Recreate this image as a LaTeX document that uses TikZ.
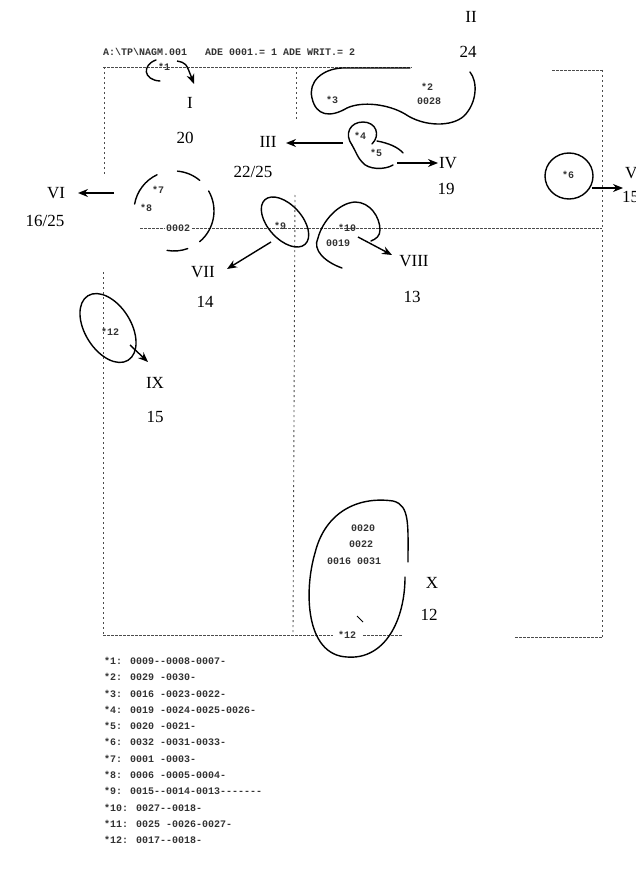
\documentclass[tikz,border=0pt]{standalone}
\usepackage{fontspec}
\setmainfont{Liberation Serif}
\newfontfamily\dotfont{Liberation Mono}
\usetikzlibrary{arrows.meta}
\begin{document}
\begin{tikzpicture}[x=1pt,y=-1pt,
  lab/.style={font=\fontsize{17}{17}\selectfont, inner sep=0pt},
  mono/.style={font=\dotfont\bfseries\fontsize{10}{10}\selectfont, inner sep=0pt, text=black!80},
  hgrid/.style={draw=black!70, line width=0.9pt, dash pattern=on 2.5pt off 1.5pt},
  vgrid/.style={draw=black!70, line width=0.9pt, dash pattern=on 2pt off 3pt},
  curve/.style={draw=black, line width=1.4pt, line cap=round},
  arr/.style={draw=black, line width=1.4pt, -{Stealth[length=10pt,width=8pt]}},
]
\useasboundingbox (0,0) rectangle (636,872);

% ---------- dotted frames ----------
\draw[hgrid] (103,67) -- (412,67);
\draw[hgrid] (552,70) -- (602,70);
\draw[hgrid] (140,228) -- (602,228);
\draw[hgrid] (103,635) -- (333,635);
\draw[hgrid] (363,635) -- (402,635);
\draw[hgrid] (515,637) -- (602,637);
\draw[vgrid] (104,67) -- (104,175);
\draw[vgrid] (103,272) -- (103,635);
\draw[vgrid] (296,67) -- (296,120);
\draw[vgrid] (295,195) -- (293,635);
\draw[vgrid] (602,70) -- (602,637);

% ---------- header ----------
\node[mono, anchor=west] (hdr) at (103,52) {A:\textbackslash TP\textbackslash NAGM.001\ \ \ ADE 0001.= 1 ADE WRIT.= 2};

% ---------- labels ----------
\node[lab] (I) at (190,103) {I};
\node[lab] (n20) at (185,138) {20};
\node[lab] (II) at (471,17) {II};
\node[lab] (n24) at (468,52) {24};
\node[lab] (III) at (268,142) {III};
\node[lab] (n2225) at (253,172) {22/25};
\node[lab] (IV) at (448,163) {IV};
\node[lab] (n19) at (446,189) {19};
\node[lab, anchor=west] (V) at (625,173) {V};
\node[lab, anchor=west] (n15a) at (622,197) {15};
\node[lab] (VI) at (56,193) {VI};
\node[lab] (n1625) at (45,221) {16/25};
\node[lab] (VII) at (203,272) {VII};
\node[lab] (n14) at (205,302) {14};
\node[lab] (VIII) at (414,261) {VIII};
\node[lab] (n13) at (412,297) {13};
\node[lab] (IX) at (155,383) {IX};
\node[lab] (n15b) at (155,417) {15};
\node[lab] (X) at (432,583) {X};
\node[lab] (n12) at (429,615) {12};

% ---------- small texts ----------
\node[mono] (t1) at (164,67) {*1};
\node[mono] (t3) at (332,100) {*3};
\node[mono] (t2) at (427,87) {*2};
\node[mono] (t28) at (429,101) {0028};
\node[mono] (t4) at (360,136) {*4};
\node[mono] (t5) at (376,153) {*5};
\node[mono] (t6) at (568,175) {*6};
\node[mono] (t7) at (158,190) {*7};
\node[mono] (t8) at (146,208) {*8};
\node[mono, fill=white, inner xsep=1pt] (t02) at (178,228) {0002};
\node[mono] (t9) at (280,226) {*9};
\node[mono] (t10) at (347,228) {*10};
\node[mono] (t19) at (338,243) {0019};
\node[mono] (t12a) at (110,332) {*12};
\node[mono] (tx1) at (363,528) {0020};
\node[mono] (tx2) at (361,544) {0022};
\node[mono] (tx3) at (354,561) {0016 0031};
\node[mono] (t12b) at (347,635) {*12};

% ---------- loops ----------
% *1
\draw[curve] (156,60) .. controls (142,65) and (143,80) .. (160,81);
% II loop (*2, *3)
\draw[curve] (410,68) -- (342,68) .. controls (322,69) and (308,82) .. (312,98)
  .. controls (316,116) and (330,118) .. (347,108)
  .. controls (362,101) and (388,104) .. (405,114)
  .. controls (424,127) and (452,127) .. (464,116)
  .. controls (477,103) and (478,82) .. (470,72);
% *4
\draw[curve] (352,145) .. controls (344,134) and (350,122) .. (363,122)
  .. controls (376,122) and (381,135) .. (372,144);
\draw[curve] (377,141) .. controls (388,143) and (398,147) .. (403,153);
\draw[curve] (352,145) .. controls (356,152) and (358,158) .. (362,162)
  .. controls (368,170) and (385,170) .. (393,165);
% *6
\draw[curve] (569,176) ellipse [x radius=24, y radius=23];
% *7 / *8 dashed circle
\draw[curve] (174,211) ++(190:40) arc[start angle=190, end angle=245, radius=40];
\draw[curve] (174,211) ++(275:40) arc[start angle=275, end angle=310, radius=40];
\draw[curve] (174,211) ++(330:40) arc[start angle=330, end angle=410, radius=40];
\draw[curve] (174,211) ++(70:40) arc[start angle=70, end angle=100, radius=40];
% *9
\draw[curve] (285,222) ellipse [x radius=30, y radius=17, rotate=-48];
% *10 / *11
\draw[curve] (342,268) .. controls (325,262) and (312,250) .. (318,238)
  .. controls (322,222) and (338,203) .. (355,202)
  .. controls (370,202) and (380,217) .. (380,230)
  .. controls (380,236) and (376,239) .. (371,241);
% *12 (IX)
\draw[curve] (108,328) ellipse [x radius=38, y radius=23, rotate=-58];
% X
\draw[curve] (405,577) .. controls (405,620) and (385,660) .. (347,657)
  .. controls (305,655) and (304,590) .. (315,553)
  .. controls (325,512) and (358,496) .. (393,501)
  .. controls (410,505) and (408,525) .. (408,562);
\draw[black, line width=1pt] (357,616) -- (363,622);

% ---------- arrows ----------
\coordinate (a1s) at (177,61);
\coordinate (a1e) at (194,84);
\draw[arr] (a1s) .. controls (186,63) .. (a1e);
\coordinate (a3s) at (343,143);
\coordinate (a3e) at (286,143);
\draw[arr] (a3s) -- (a3e);
\coordinate (a4s) at (397,163);
\coordinate (a4e) at (438,163);
\draw[arr] (a4s) -- (a4e);
\coordinate (a6s) at (592,188);
\coordinate (a6e) at (623,188);
\draw[arr] (a6s) -- (a6e);
\coordinate (a7s) at (114,193);
\coordinate (a7e) at (78,193);
\draw[arr] (a7s) -- (a7e);
\coordinate (a9s) at (271,242);
\coordinate (a9e) at (227,269);
\draw[arr] (a9s) -- (a9e);
\coordinate (a10s) at (358,237);
\coordinate (a10e) at (392,255);
\draw[arr] (a10s) -- (a10e);
\coordinate (a12s) at (130,345);
\coordinate (a12e) at (148,362);
\draw[arr] (a12s) -- (a12e);

% ---------- legend ----------
\node[mono, anchor=north west, align=left, font=\dotfont\bfseries\fontsize{10}{16.3}\selectfont] (legend) at (104,657) {%
*1: 0009--0008-0007-\\
*2: 0029 -0030-\\
*3: 0016 -0023-0022-\\
*4: 0019 -0024-0025-0026-\\
*5: 0020 -0021-\\
*6: 0032 -0031-0033-\\
*7: 0001 -0003-\\
*8: 0006 -0005-0004-\\
*9: 0015--0014-0013-------\\
*10: 0027--0018-\\
*11: 0025 -0026-0027-\\
*12: 0017--0018-};
\end{tikzpicture}
\end{document}
